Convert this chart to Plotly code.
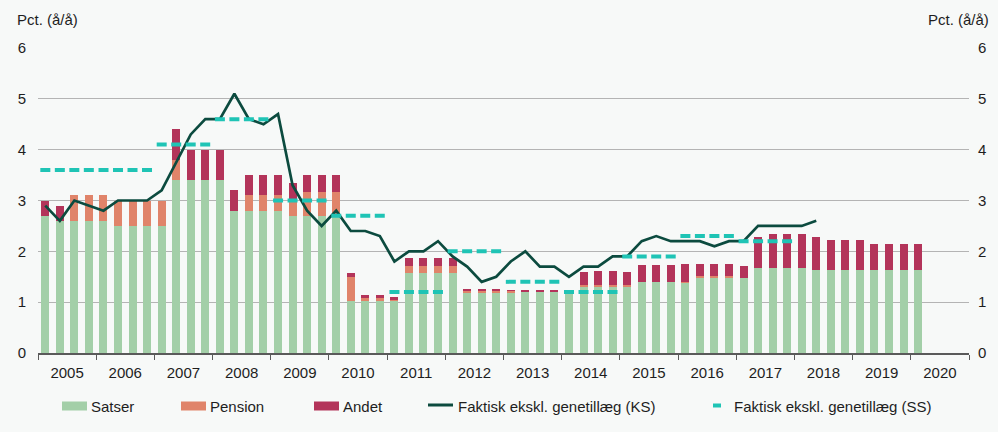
import plotly.graph_objects as go

# ---------------- data ----------------
quarters = [f"{y}K{q}" for y in range(2005, 2021) for q in range(1, 5)][:61]

satser = [2.70, 2.60, 2.60, 2.60,
          2.60, 2.50, 2.50, 2.50,
          2.50, 3.40, 3.40, 3.40,
          3.40, 2.80, 2.80, 2.80,
          2.80, 2.70, 2.70, 2.70,
          2.70, 1.03, 1.03, 1.03,
          1.03, 1.58, 1.58, 1.58,
          1.58, 1.18, 1.18, 1.18,
          1.18, 1.20, 1.20, 1.20,
          1.17, 1.29, 1.30, 1.30,
          1.30, 1.39, 1.39, 1.39,
          1.38, 1.48, 1.48, 1.48,
          1.48, 1.68, 1.68, 1.68,
          1.68, 1.64, 1.64, 1.64,
          1.64, 1.63, 1.63, 1.63,
          1.63]
pension = [0.00, 0.00, 0.50, 0.50,
           0.50, 0.50, 0.50, 0.50,
           0.50, 0.39, 0.00, 0.00,
           0.00, 0.00, 0.30, 0.30,
           0.30, 0.32, 0.46, 0.46,
           0.46, 0.47, 0.05, 0.05,
           0.01, 0.14, 0.14, 0.14,
           0.14, 0.04, 0.04, 0.04,
           0.04, 0.00, 0.00, 0.01,
           0.00, 0.04, 0.04, 0.04,
           0.03, 0.00, 0.00, 0.00,
           0.02, 0.03, 0.03, 0.03,
           0.00, 0.00, 0.00, 0.00,
           0.00, 0.00, 0.00, 0.00,
           0.00, 0.00, 0.00, 0.00,
           0.00]
andet = [0.30, 0.30, 0.00, 0.00,
         0.00, 0.00, 0.00, 0.00,
         0.00, 0.61, 0.60, 0.60,
         0.60, 0.40, 0.40, 0.40,
         0.40, 0.32, 0.34, 0.34,
         0.34, 0.08, 0.07, 0.07,
         0.07, 0.14, 0.14, 0.14,
         0.14, 0.02, 0.02, 0.02,
         0.01, 0.02, 0.02, 0.02,
         0.00, 0.27, 0.28, 0.28,
         0.26, 0.35, 0.34, 0.34,
         0.35, 0.245, 0.245, 0.245,
         0.24, 0.61, 0.66, 0.66,
         0.665, 0.64, 0.59, 0.59,
         0.59, 0.52, 0.52, 0.52,
         0.52]

ks = [2.9, 2.6, 3.0, 2.9,
      2.8, 3.0, 3.0, 3.0,
      3.2, 3.76, 4.3, 4.6,
      4.6, 5.1, 4.6, 4.5,
      4.7, 3.3, 2.8, 2.5,
      2.8, 2.4, 2.4, 2.3,
      1.8, 2.0, 2.0, 2.2,
      1.9, 1.7, 1.4, 1.5,
      1.8, 2.0, 1.7, 1.7,
      1.5, 1.7, 1.7, 1.9,
      1.9, 2.2, 2.3, 2.2,
      2.2, 2.2, 2.1, 2.2,
      2.2, 2.5, 2.5, 2.5,
      2.5, 2.6]

ss_years = list(range(2005, 2018))
ss = [3.6, 3.6, 4.1, 4.6, 3.0, 2.7, 1.2, 2.0, 1.4, 1.2, 1.9, 2.3, 2.2]

year_labels = [str(y) for y in range(2005, 2021)]

# ---------------- styling ----------------
C_SAT = "#a3cfa8"
C_PEN = "#e0846a"
C_AND = "#b3345a"
C_KS = "#0c4b3f"
C_SS = "#1fc4b5"
BG = "#f7f9f8"
TXT = "#1e1e1e"
FONT = "Liberation Sans, Arial, sans-serif"

W, H = 998, 432
L, R, T, B = 38, 29, 48, 79
PW, PH = W - L - R, H - T - B


def qx(label):
    y, q = label.split("K")
    return int(y) + (int(q) - 0.5) / 4


xq = [qx(s) for s in quarters]
x_ks = xq[:len(ks)]

ss_x, ss_y = [], []
for yr, v in zip(ss_years, ss):
    ss_x += [yr + 0.04, yr + 0.96, None]
    ss_y += [v, v, None]

fig = go.Figure()
fig.add_bar(x=xq, y=satser, name="Satser", marker=dict(color=C_SAT, line=dict(width=0)))
fig.add_bar(x=xq, y=pension, name="Pension", marker=dict(color=C_PEN, line=dict(width=0)))
fig.add_bar(x=xq, y=andet, name="Andet", marker=dict(color=C_AND, line=dict(width=0)))
fig.add_scatter(x=x_ks, y=ks, mode="lines", name="Faktisk ekskl. genetillæg (KS)",
                line=dict(color=C_KS, width=2.7), yaxis="y2")
fig.add_scatter(x=ss_x, y=ss_y, mode="lines", name="Faktisk ekskl. genetillæg (SS)",
                line=dict(color=C_SS, width=4, dash="10px,4.5px"), yaxis="y2",
                connectgaps=False)

fig.update_traces(showlegend=False, hoverinfo="skip")

tick_font = dict(family=FONT, size=15, color=TXT)
fig.update_layout(
    width=W, height=H, autosize=False,
    margin=dict(l=L, r=R, t=T, b=B, pad=0, autoexpand=False),
    paper_bgcolor=BG, plot_bgcolor=BG,
    barmode="stack", bargap=0.45,
    font=dict(family=FONT, size=15, color=TXT),
    xaxis=dict(
        range=[2005, 2021], showgrid=False, zeroline=False, automargin=False,
        tickmode="array", tickvals=[y + 0.5 for y in range(2005, 2021)],
        ticktext=year_labels, ticks="outside", ticklen=5,
        tickcolor="rgba(0,0,0,0)", tickfont=tick_font,
        showline=True, linecolor="#5a5a5a", linewidth=1.5,
        minor=dict(tickmode="array", tickvals=list(range(2005, 2022)),
                   ticks="outside", ticklen=5, tickwidth=1.2,
                   tickcolor="#5a5a5a", showgrid=False),
        fixedrange=True,
    ),
    yaxis=dict(
        range=[0, 6], tickmode="array", tickvals=list(range(0, 7)),
        showgrid=True, gridcolor="#b4b4b4", gridwidth=1, zeroline=False,
        automargin=False,
        ticks="outside", ticklen=8, tickcolor="rgba(0,0,0,0)",
        tickfont=tick_font, showline=False, fixedrange=True,
    ),
    yaxis2=dict(
        range=[0, 6], overlaying="y", side="right",
        tickmode="array", tickvals=list(range(0, 7)),
        showgrid=False, zeroline=False, automargin=False,
        ticks="outside", ticklen=5, tickcolor="rgba(0,0,0,0)",
        tickfont=tick_font, showline=False, fixedrange=True,
    ),
)


def px(x):
    return (x - L) / PW


def py(y):
    return (T + PH - y) / PH


# axis unit labels
fig.add_annotation(x=px(15), y=py(19), xref="paper", yref="paper", text="Pct. (å/å)",
                   showarrow=False, xanchor="left", yanchor="middle",
                   font=dict(family=FONT, size=15, color=TXT))
fig.add_annotation(x=px(991), y=py(19), xref="paper", yref="paper", text="Pct. (å/å)",
                   showarrow=False, xanchor="right", yanchor="middle",
                   font=dict(family=FONT, size=15, color=TXT))

# custom legend
LEG_Y = 406
leg_items = [
    ("rect", C_SAT, 62, 87, "Satser", 89),
    ("rect", C_PEN, 181, 206, "Pension", 208),
    ("rect", C_AND, 314, 339, "Andet", 341),
    ("line", C_KS, 428, 453, "Faktisk ekskl. genetillæg (KS)", 456),
    ("dash", C_SS, 713, 721, "Faktisk ekskl. genetillæg (SS)", 732),
]
for kind, col, x0, x1, label, tx in leg_items:
    if kind == "rect":
        fig.add_shape(type="rect", xref="paper", yref="paper",
                      x0=px(x0), x1=px(x1), y0=py(LEG_Y - 4.5), y1=py(LEG_Y + 4.5),
                      fillcolor=col, line=dict(width=0))
    elif kind == "line":
        fig.add_shape(type="line", xref="paper", yref="paper",
                      x0=px(x0), x1=px(x1), y0=py(LEG_Y - 1), y1=py(LEG_Y - 1),
                      line=dict(color=col, width=3))
    else:
        fig.add_shape(type="rect", xref="paper", yref="paper",
                      x0=px(x0), x1=px(x1), y0=py(LEG_Y - 2.5), y1=py(LEG_Y + 1.5),
                      fillcolor=col, line=dict(width=0))
    fig.add_annotation(x=px(tx), y=py(LEG_Y), xref="paper", yref="paper", text=label,
                       showarrow=False, xanchor="left", yanchor="middle",
                       font=dict(family=FONT, size=15, color=TXT))

page_css = ("document.body.style.margin='0';"
            "document.body.style.padding='0';"
            "document.body.style.overflow='hidden';"
            f"document.body.style.background='{BG}';")
fig.write_html("out.html", config={"displayModeBar": False}, post_script=page_css)
